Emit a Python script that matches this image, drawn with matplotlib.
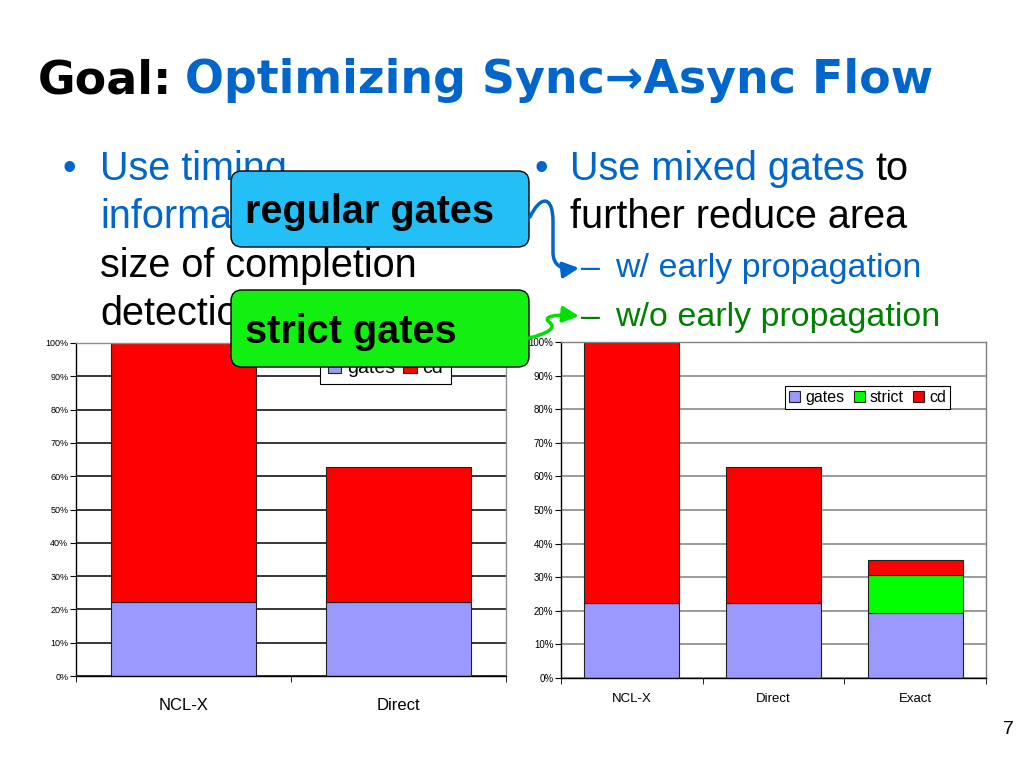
import matplotlib
matplotlib.use('Agg')
import matplotlib.pyplot as plt
import numpy as np
from matplotlib.patches import FancyBboxPatch, FancyArrowPatch
from matplotlib.path import Path
from matplotlib.transforms import IdentityTransform
from matplotlib.ticker import PercentFormatter

W, H = 1024, 768

# left chart: regular gates only
cats_left = ['NCL-X', 'Direct']
gates_left = [0.223, 0.223]
cd_left = [0.777, 0.404]

# right chart: mixed gates
cats_right = ['NCL-X', 'Direct', 'Exact']
gates_right = [0.222, 0.222, 0.193]
strict_right = [0.0, 0.0, 0.114]
cd_right = [0.778, 0.405, 0.045]

C_GATES = '#9999FF'
C_STRICT = '#00FF00'
C_CD = '#FF0000'
BLUE = '#0066CC'
GREEN = '#008000'

NARROW = ['Liberation Sans Narrow', 'Liberation Sans', 'DejaVu Sans']
ARIAL = ['Liberation Sans', 'DejaVu Sans']

fig = plt.figure(figsize=(W / 100, H / 100), dpi=100)
renderer = fig.canvas.get_renderer()


def fx(x, y):
    return x / W, 1 - y / H


def rich_line(x, y, parts, size, family, weight='normal', z=1):
    # draw coloured pieces of one line one after another
    for text, color in parts:
        t = fig.text(*fx(x, y), text, color=color, fontsize=size, family=family,
                     weight=weight, va='baseline', ha='left', zorder=z)
        bb = t.get_window_extent(renderer)
        x = bb.x1 + size * 0.28 * 100 / 72


def setup_axes(ax, cats, grid_color, side_color, tick_font, tick_size, lab_font, lab_size, lab_pad):
    n = len(cats)
    ax.set_xlim(-0.5, n - 0.5)
    ax.set_ylim(0, 1)
    ax.set_yticks(np.arange(0, 1.001, 0.1))
    ax.yaxis.set_major_formatter(PercentFormatter(1.0, decimals=0))
    ax.yaxis.grid(True, color=grid_color, linewidth=1.1)
    ax.set_axisbelow(True)
    ax.set_xticks(range(n))
    ax.set_xticklabels(cats, family=lab_font, fontsize=lab_size)
    ax.set_xticks(np.arange(-0.5, n, 1), minor=True)
    ax.tick_params(axis='x', which='major', length=0, pad=lab_pad)
    ax.tick_params(axis='x', which='minor', length=4, direction='out', color='black')
    ax.tick_params(axis='y', length=4, direction='out', pad=1.5)
    for lab in ax.get_yticklabels():
        lab.set_family(tick_font)
        lab.set_fontsize(tick_size)
    ax.spines['left'].set_color('black')
    ax.spines['bottom'].set_color('black')
    ax.spines['top'].set_color(side_color)
    ax.spines['right'].set_color(side_color)
    for s in ax.spines.values():
        s.set_linewidth(1.0)


# ---- left chart ----
axL = fig.add_axes([76 / W, 1 - 676 / H, 430 / W, 333 / H], zorder=0)
xl = np.arange(len(cats_left))
axL.bar(xl, gates_left, width=0.67, color=C_GATES, edgecolor='#222222', linewidth=0.8, label='gates', zorder=2)
axL.bar(xl, cd_left, width=0.67, bottom=gates_left, color=C_CD, edgecolor='#222222', linewidth=0.8, label='cd', zorder=2)
setup_axes(axL, cats_left, 'black', '#909090', NARROW, 6.5, NARROW, 12, 16)
legL = axL.legend(loc='upper left', bbox_to_anchor=(0.567, 0.975), ncol=2, prop={'family': NARROW, 'size': 14},
                  fancybox=False, edgecolor='black', framealpha=1, handlelength=0.7, handleheight=0.7,
                  handletextpad=0.3, columnspacing=0.4, borderpad=0.4, borderaxespad=0)
legL.get_frame().set_linewidth(0.8)

# ---- right chart ----
axR = fig.add_axes([561 / W, 1 - 678 / H, 425 / W, 336 / H], zorder=0)
xr = np.arange(len(cats_right))
base2 = np.array(gates_right) + np.array(strict_right)
axR.bar(xr, gates_right, width=0.67, color=C_GATES, edgecolor='#222222', linewidth=0.8, label='gates', zorder=2)
axR.bar(xr, strict_right, width=0.67, bottom=gates_right, color=C_STRICT, edgecolor='#222222', linewidth=0.8,
        label='strict', zorder=2)
axR.bar(xr, cd_right, width=0.67, bottom=base2, color=C_CD, edgecolor='#222222', linewidth=0.8, label='cd', zorder=2)
setup_axes(axR, cats_right, '#808080', '#808080', ARIAL, 7, ARIAL, 9.5, 11)
legR = axR.legend(loc='upper left', bbox_to_anchor=(0.527, 0.868), ncol=3, prop={'family': ARIAL, 'size': 11.5},
                  fancybox=False, edgecolor='black', framealpha=1, handlelength=0.7, handleheight=0.7,
                  handletextpad=0.3, columnspacing=0.6, borderpad=0.25, borderaxespad=0)
legR.get_frame().set_linewidth(0.8)

# ---- slide text ----
rich_line(38, 93, [('Goal:', 'black'), ('Optimizing Sync\u2192Async Flow', BLUE)], 33, ['DejaVu Sans'], weight='bold')

fig.text(*fx(63, 180), '\u2022', color=BLUE, fontsize=28, family=ARIAL, va='baseline')
rich_line(100, 180, [('Use timing', BLUE)], 28.5, ARIAL)
rich_line(100, 228, [('information', BLUE), ('to reduce', 'black')], 28.5, ARIAL)
rich_line(100, 277, [('size of completion', 'black')], 28.5, ARIAL)
rich_line(100, 325, [('detection', 'black')], 28.5, ARIAL)

fig.text(*fx(535, 180), '\u2022', color=BLUE, fontsize=28, family=ARIAL, va='baseline')
rich_line(570, 180, [('Use mixed gates', BLUE), ('to', 'black')], 28.5, ARIAL)
rich_line(570, 228, [('further reduce area', 'black')], 28.5, ARIAL)
fig.text(*fx(581, 277), '\u2013', color=BLUE, fontsize=24.5, family=ARIAL, va='baseline')
fig.text(*fx(615, 277), 'w/ early propagation', color=BLUE, fontsize=24.5, family=ARIAL, va='baseline')
fig.text(*fx(581, 326), '\u2013', color=GREEN, fontsize=24.5, family=ARIAL, va='baseline')
fig.text(*fx(615, 326), 'w/o early propagation', color=GREEN, fontsize=24.5, family=ARIAL, va='baseline')

fig.text(*fx(1003, 734), '7', color='black', fontsize=14, family=ARIAL, va='baseline')

# ---- callout boxes (pixel coordinates) ----
def callout(x0, y0, x1, y1, color, label, baseline):
    box = FancyBboxPatch((x0, H - y1), x1 - x0, y1 - y0, boxstyle='round,pad=0,rounding_size=11',
                         facecolor=color, edgecolor='black', linewidth=1.0,
                         transform=IdentityTransform(), zorder=10)
    fig.add_artist(box)
    fig.text(*fx(x0 + 14, baseline), label, color='black', fontsize=28.5, family=ARIAL, weight='bold',
             va='baseline', zorder=11)


callout(231, 171, 529, 247, '#22C0F6', 'regular gates', 223)
callout(231, 290, 529, 367, '#11F011', 'strict gates', 343)


def connector(pts, codes, color):
    verts = [(x, H - y) for x, y in pts]
    arr = FancyArrowPatch(path=Path(verts, codes), arrowstyle='-|>,head_length=0.8,head_width=0.4',
                          mutation_scale=12, color=color, linewidth=2.5,
                          transform=IdentityTransform(), zorder=12)
    fig.add_artist(arr)


connector([(530, 217), (540, 196), (553, 194), (553, 222), (553, 252),
           (553, 266), (562, 270), (579, 268)],
          [Path.MOVETO, Path.CURVE4, Path.CURVE4, Path.CURVE4, Path.LINETO,
           Path.CURVE4, Path.CURVE4, Path.CURVE4], BLUE)
connector([(529, 338), (546, 334), (558, 328), (549, 322),
           (542, 316), (558, 314), (579, 316)],
          [Path.MOVETO, Path.CURVE4, Path.CURVE4, Path.CURVE4,
           Path.CURVE4, Path.CURVE4, Path.CURVE4], '#00E000')

fig.savefig('out.png', dpi=100, facecolor='white')
